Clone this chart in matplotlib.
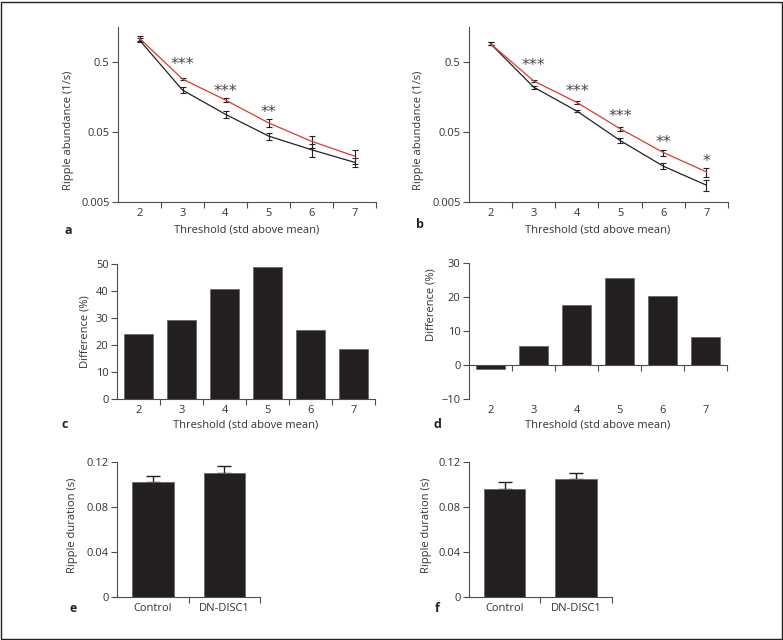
import matplotlib
matplotlib.use("Agg")
import matplotlib.pyplot as plt
import matplotlib.transforms as mtransforms
from matplotlib.patches import Rectangle
import numpy as np

plt.rcParams['font.family'] = ['Open Sans', 'DejaVu Sans']

W, H = 783, 640

# ---------------- data ----------------
thresholds = [2, 3, 4, 5, 6, 7]
a_ctrl = [1.04, 0.20, 0.090, 0.044, 0.028, 0.0185]
a_ctrl_err = [0.06, 0.02, 0.010, 0.005, 0.006, 0.0025]
a_dn = [1.10, 0.288, 0.144, 0.068, 0.037, 0.0227]
a_dn_err = [0.10, 0.012, 0.010, 0.009, 0.0075, 0.005]
a_stars = ['', '***', '***', '**', '', '']

b_ctrl = [0.92, 0.22, 0.10, 0.038, 0.0163, 0.0087]
b_ctrl_err = [0.04, 0.01, 0.004, 0.0026, 0.0016, 0.0016]
b_dn = [0.92, 0.27, 0.133, 0.056, 0.0256, 0.0135]
b_dn_err = [0.04, 0.012, 0.005, 0.004, 0.0026, 0.002]
b_stars = ['', '***', '***', '***', '**', '*']

c_diff = [24.0, 29.3, 40.7, 48.9, 25.6, 18.4]
d_diff = [-1.0, 5.8, 17.8, 25.7, 20.4, 8.3]

groups = ['Control', 'DN-DISC1']
e_dur = [0.1022, 0.1107]
e_err = [0.0056, 0.0060]
f_dur = [0.0965, 0.1054]
f_err = [0.0057, 0.0048]

abund_ticks = [0.005, 0.05, 0.5]
abund_labels = ['0.005', '0.05', '0.5']

# ---------------- style ----------------
TXT = '#333333'
SP = '#4d4d4d'
RED = '#d93a2f'
BAR = '#231f20'
FS = 8

fig = plt.figure(figsize=(W / 100, H / 100), dpi=100)


def ax_px(x0, x1, ytop, ybot):
    return fig.add_axes([x0 / W, 1 - ybot / H, (x1 - x0) / W, (ybot - ytop) / H])


def style(ax):
    for s in ['top', 'right']:
        ax.spines[s].set_visible(False)
    for s in ['left', 'bottom']:
        ax.spines[s].set_color(SP)
        ax.spines[s].set_linewidth(0.8)
    ax.tick_params(which='major', length=4, width=0.8, color=SP, labelsize=FS,
                   labelcolor=TXT, pad=2)
    ax.tick_params(which='minor', length=0, labelsize=FS, labelcolor=TXT, pad=4)


def cat_x(ax, cats, labels=None):
    n = len(cats)
    lo = cats[0] - 0.5
    ax.set_xlim(lo, cats[-1] + 0.5)
    ax.set_xticks([c + 0.5 for c in cats])
    ax.set_xticklabels([''] * n)
    ax.set_xticks(cats, minor=True)
    ax.set_xticklabels(labels if labels is not None else [str(c) for c in cats], minor=True)


def ptext(x, y, s, **kw):
    fig.text(x / W, 1 - y / H, s, **kw)


STAR_FS = 11.5


def line_panel(ax, ctrl, ctrl_err, dn, dn_err, stars, offs):
    ax.errorbar(thresholds, dn, yerr=dn_err, color=RED, lw=0.9, ecolor='#222222',
                elinewidth=0.8, capsize=2.3, capthick=0.8, zorder=3)
    ax.errorbar(thresholds, ctrl, yerr=ctrl_err, color='#222222', lw=0.9, ecolor='#222222',
                elinewidth=0.8, capsize=2.3, capthick=0.8, zorder=2)
    ax.set_yscale('log')
    ax.set_ylim(0.005, 1.6)
    ax.set_yticks(abund_ticks)
    ax.set_yticklabels(abund_labels)
    ax.yaxis.set_minor_locator(matplotlib.ticker.NullLocator())
    cat_x(ax, thresholds)
    style(ax)
    star_px = STAR_FS * 100 / 72
    for x, v, s, o in zip(thresholds, dn, stars, offs):
        if s:
            base = (o - 0.6 * star_px) * 0.72
            ax.annotate(s, (x, v), xytext=(0, base), textcoords='offset points',
                        ha='center', va='baseline', fontsize=STAR_FS, color='#444444',
                        family='DejaVu Sans')


# ---- a ----
axa = ax_px(118, 376, 27, 202)
line_panel(axa, a_ctrl, a_ctrl_err, a_dn, a_dn_err, a_stars, [0, 20, 14, 15, 0, 0])
ptext(247, 230, 'Threshold (std above mean)', ha='center', va='center', fontsize=FS, color=TXT)
ptext(68, 130, 'Ripple abundance (1/s)', ha='center', va='center', rotation=90, fontsize=FS, color=TXT)
ptext(68, 230, 'a', ha='center', va='center', fontsize=9, fontweight='bold', color='#222')

# ---- b ----
axb = ax_px(469, 728, 27, 202)
line_panel(axb, b_ctrl, b_ctrl_err, b_dn, b_dn_err, b_stars, [0, 21, 16, 17, 15, 15])
ptext(598, 230, 'Threshold (std above mean)', ha='center', va='center', fontsize=FS, color=TXT)
ptext(418, 130, 'Ripple abundance (1/s)', ha='center', va='center', rotation=90, fontsize=FS, color=TXT)
ptext(420, 224, 'b', ha='center', va='center', fontsize=9, fontweight='bold', color='#222')

# ---- c ----
axc = ax_px(117, 375, 264.3, 399)
axc.bar(thresholds, c_diff, width=0.68, color=BAR, edgecolor='#6a6a6a', linewidth=0.6, zorder=2)
axc.set_ylim(0, 50)
axc.set_yticks([0, 10, 20, 30, 40, 50])
cat_x(axc, thresholds)
style(axc)
ptext(246, 425, 'Threshold (std above mean)', ha='center', va='center', fontsize=FS, color=TXT)
ptext(85, 332, 'Difference (%)', ha='center', va='center', rotation=90, fontsize=FS, color=TXT)
ptext(65, 425, 'c', ha='center', va='center', fontsize=9, fontweight='bold', color='#222')

# ---- d ----
axd = ax_px(469, 727, 263.3, 399.3)
axd.bar(thresholds, d_diff, width=0.68, color=BAR, edgecolor='#6a6a6a', linewidth=0.6, zorder=2)
axd.set_ylim(-10, 30)
axd.set_yticks([-10, 0, 10, 20, 30])
axd.set_yticklabels(['\u221210', '0', '10', '20', '30'])
cat_x(axd, thresholds)
style(axd)
axd.spines['bottom'].set_position(('data', 0))
axd.tick_params(axis='x', which='both', labelbottom=False)
trans = mtransforms.blended_transform_factory(axd.transData, axd.transAxes)
for t in thresholds:
    axd.text(t, -11 / 136, str(t), transform=trans, ha='center', va='center',
             fontsize=FS, color=TXT)
ptext(598, 425, 'Threshold (std above mean)', ha='center', va='center', fontsize=FS, color=TXT)
ptext(431, 305, 'Difference (%)', ha='center', va='center', rotation=90, fontsize=FS, color=TXT)
ptext(437, 425, 'd', ha='center', va='center', fontsize=9, fontweight='bold', color='#222')


# ---- e, f ----
def dur_panel(ax, vals, errs):
    pos = [1, 2]
    ax.bar(pos, vals, width=0.58, color=BAR, edgecolor='#6a6a6a', linewidth=0.6, zorder=2)
    ax.errorbar(pos, vals, yerr=[[0, 0], errs], fmt='none', ecolor='#222222',
                elinewidth=1.0, capsize=5.2, capthick=1.0, zorder=1)
    ax.set_ylim(0, 0.12)
    ax.set_yticks([0, 0.04, 0.08, 0.12])
    ax.set_yticklabels(['0', '0.04', '0.08', '0.12'])
    cat_x(ax, pos, groups)
    ax.set_xticks([1.5, 2.5])
    ax.set_xticklabels(['', ''])
    style(ax)


axe = ax_px(117.3, 260, 462.3, 597)
dur_panel(axe, e_dur, e_err)
ptext(73, 525, 'Ripple duration (s)', ha='center', va='center', rotation=90, fontsize=FS, color=TXT)
ptext(73, 609, 'e', ha='center', va='center', fontsize=9, fontweight='bold', color='#222')

axf = ax_px(469, 611.7, 462.3, 597)
dur_panel(axf, f_dur, f_err)
ptext(426, 525, 'Ripple duration (s)', ha='center', va='center', rotation=90, fontsize=FS, color=TXT)
ptext(437, 609, 'f', ha='center', va='center', fontsize=9, fontweight='bold', color='#222')

# figure border
fig.patches.append(Rectangle((1 / W, 1 / H), (W - 2.5) / W, (H - 2.5) / H,
                             transform=fig.transFigure, fill=False,
                             edgecolor='#222222', linewidth=1.0))

fig.savefig('out.png', dpi=100)
